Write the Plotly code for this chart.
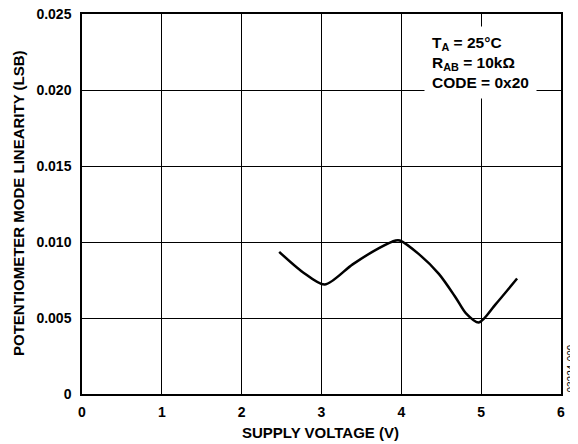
import plotly.graph_objects as go

supply_v = [2.47, 2.77, 3.04, 3.39, 3.72, 3.93, 3.98, 4.22, 4.47, 4.68, 4.81, 4.97, 5.18, 5.45]
linearity = [0.00935, 0.0080, 0.0072, 0.00853, 0.0096, 0.0101, 0.0101, 0.0092, 0.0079,
             0.00635, 0.0053, 0.0047, 0.0059, 0.0076]

x_ticks = [0, 1, 2, 3, 4, 5, 6]
x_tick_labels = ["<b>%d</b>" % v for v in x_ticks]
y_ticks = [0, 0.005, 0.010, 0.015, 0.020, 0.025]
y_tick_labels = ["<b>0</b>", "<b>0.005</b>", "<b>0.010</b>", "<b>0.015</b>", "<b>0.020</b>", "<b>0.025</b>"]

font_family = "Liberation Sans, Arial, sans-serif"

# page body has an 8px default margin; size the figure to fill the rest of the window
OFF = 8
W, H = 578 - OFF, 444 - OFF
L, R, T, B = 82 - OFF, 17, 14 - OFF, 50
plot_w = W - L - R
plot_h = H - T - B


def px_x(p):
    return (p - OFF - L) / plot_w


def px_y(p):
    return (H - B - (p - OFF)) / plot_h


fig = go.Figure()
fig.add_trace(go.Scatter(
    x=supply_v, y=linearity, mode="lines",
    line=dict(color="black", width=2.5, shape="spline", smoothing=0.8),
    showlegend=False, hoverinfo="skip",
))

fig.update_layout(
    width=W, height=H,
    margin=dict(l=L, r=R, t=T, b=B, autoexpand=False),
    paper_bgcolor="white", plot_bgcolor="white",
    font=dict(family=font_family, size=14, color="black"),
    xaxis=dict(
        range=[0, 6], tickvals=x_ticks, ticktext=x_tick_labels, ticks="",
        showline=True, linecolor="black", linewidth=1.5, mirror=True,
        showgrid=True, gridcolor="black", gridwidth=1.2, zeroline=False,
        automargin=False, ticklabelstandoff=4, ticklabeloverflow="allow",
        tickfont=dict(family=font_family, size=14, color="black"),
    ),
    yaxis=dict(
        range=[0, 0.025], tickvals=y_ticks, ticktext=y_tick_labels, ticks="",
        showline=True, linecolor="black", linewidth=1.5, mirror=True,
        showgrid=True, gridcolor="black", gridwidth=1.2, zeroline=False,
        automargin=False, ticklabelstandoff=6, ticklabeloverflow="allow",
        tickfont=dict(family=font_family, size=14, color="black"),
    ),
)

# axis titles
fig.add_annotation(
    x=px_x(320), y=px_y(432), xref="paper", yref="paper",
    text="<b>SUPPLY VOLTAGE (V)</b>", showarrow=False,
    xanchor="center", yanchor="middle",
    font=dict(family=font_family, size=15, color="black"),
)
fig.add_annotation(
    x=px_x(18), y=px_y(203), xref="paper", yref="paper",
    text="<b>POTENTIOMETER MODE LINEARITY (LSB)</b>", showarrow=False,
    textangle=-90, xanchor="center", yanchor="middle",
    font=dict(family=font_family, size=15, color="black"),
)

# condition box
fig.add_annotation(
    x=px_x(424), y=px_y(26), xref="paper", yref="paper",
    text="<b>T<sub>A</sub> = 25°C<br>R<sub>AB</sub> = 10kΩ<br>CODE = 0x20</b>",
    showarrow=False, align="left", xanchor="left", yanchor="top",
    bgcolor="white", borderpad=7,
    font=dict(family=font_family, size=15.5, color="black"),
)

# figure id
fig.add_annotation(
    x=px_x(570.5), y=px_y(369), xref="paper", yref="paper", text="03224-009",
    showarrow=False, textangle=-90, xanchor="center", yanchor="middle",
    font=dict(family=font_family, size=10, color="black"),
)

fig.write_html("out.html")
